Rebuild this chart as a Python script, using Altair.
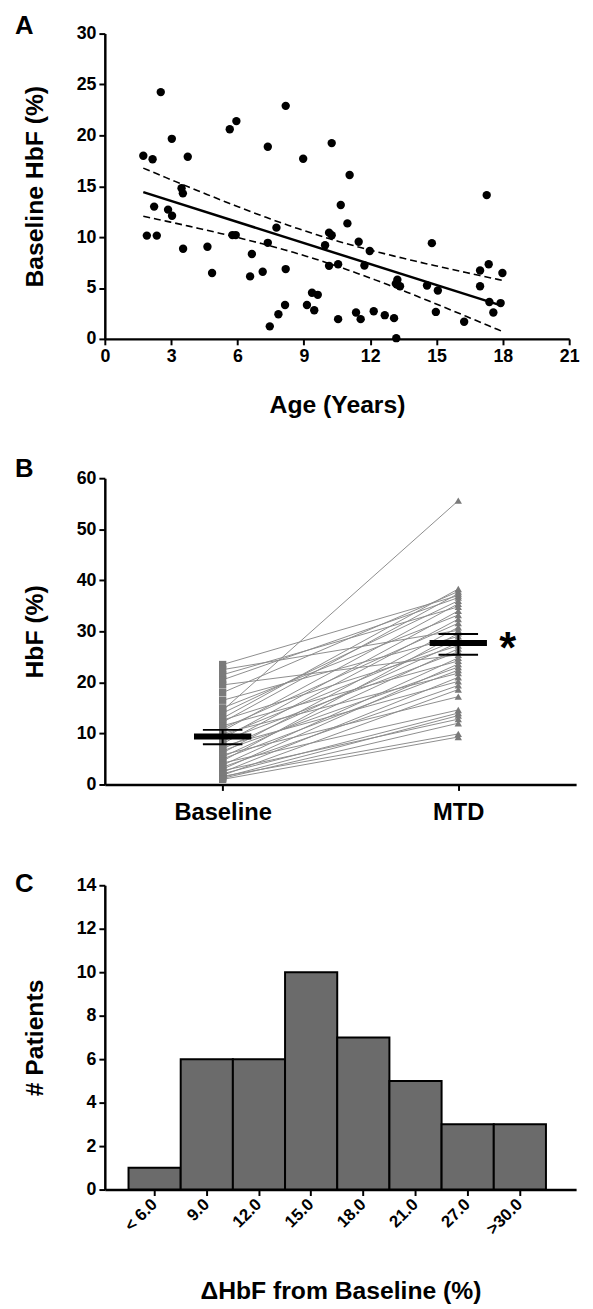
import altair as alt
import numpy as np
import pandas as pd

FONT = "Liberation Sans"

# ---------------- Panel A: baseline HbF vs age ----------------
age_years = [1.74, 2.16, 2.53, 2.23, 1.90, 2.35, 3.03, 2.86, 3.04, 3.75,
             3.47, 3.53, 3.54, 4.64, 4.85, 5.65, 5.95, 5.77, 5.92, 6.65,
             6.57, 7.14, 7.37, 7.37, 7.76, 8.18, 8.18, 8.15, 7.85, 7.46,
             10.26, 8.97, 11.07, 10.67, 10.97, 10.14, 10.26, 9.96, 11.48, 11.98,
             10.14, 10.55, 11.74, 9.37, 9.63, 9.14, 9.47, 10.55, 11.36, 11.57,
             12.16, 12.66, 13.08, 13.18, 13.23, 13.35, 13.16, 14.57, 15.06, 14.79,
             14.97, 16.25, 17.27, 16.97, 17.36, 16.97, 17.39, 17.57, 17.90, 17.98]
baseline_hbf = [18.0, 17.65, 24.25, 13.0, 10.15, 10.15, 19.66, 12.7, 12.1, 17.9,
                14.8, 14.3, 8.86, 9.05, 6.47, 20.6, 21.4, 10.2, 10.2, 8.34,
                6.14, 6.6, 18.88, 9.44, 10.93, 22.9, 6.86, 3.33, 2.42, 1.23,
                19.24, 17.7, 16.1, 13.16, 11.35, 10.44, 10.18, 9.21, 9.54, 8.63,
                7.18, 7.34, 7.21, 4.53, 4.33, 3.33, 2.81, 1.94, 2.59, 1.94,
                2.72, 2.33, 2.04, 0.07, 5.82, 5.17, 5.43, 5.24, 4.75, 9.41,
                2.65, 1.68, 14.13, 6.72, 7.34, 5.17, 3.62, 2.59, 3.52, 6.47]
age_ticks = [0, 3, 6, 9, 12, 15, 18, 21]
hbfA_ticks = [0, 5, 10, 15, 20, 25, 30]

# ---------------- Panel B: baseline -> MTD pairs ----------------
groups = ["Baseline", "MTD"]
pair_baseline = [23.5, 22.5, 21.5, 20.5, 19.5, 18.0, 16.5, 15.0, 14.0, 13.0,
                 12.6, 12.2, 11.5, 11.0, 10.5, 10.0, 9.5, 9.0, 8.5, 8.0,
                 7.5, 7.0, 6.6, 6.2, 5.8, 5.4, 5.0, 4.6, 4.2, 3.8,
                 3.4, 3.0, 2.7, 2.4, 2.1, 1.8, 1.6, 1.4, 1.2, 1.0, 14.5]
pair_mtd = [37.0, 30.2, 34.8, 36.6, 25.4, 37.8, 29.0, 33.2, 36.0, 38.3,
            27.2, 37.4, 24.2, 31.6, 35.4, 21.8, 28.4, 34.0, 26.0, 32.4,
            20.2, 27.8, 23.0, 30.8, 17.2, 26.6, 22.4, 29.6, 14.6, 24.8,
            19.4, 23.6, 12.8, 21.0, 14.0, 18.6, 9.9, 13.5, 12.0, 9.3, 55.6]
group_mean = [9.4, 27.7]
group_sem_lo = [7.9, 25.4]
group_sem_hi = [10.7, 29.5]
hbfB_ticks = [0, 10, 20, 30, 40, 50, 60]

# ---------------- Panel C: histogram ----------------
delta_bins = ["< 6.0", "9.0", "12.0", "15.0", "18.0", "21.0", "27.0", ">30.0"]
patients = [1, 6, 6, 10, 7, 5, 3, 3]
count_ticks = [0, 2, 4, 6, 8, 10, 12, 14]

TITLE_FS = 25
LETTER_FS = 26
one = pd.DataFrame({"k": [0]})


def letter(t, yoff):
    return alt.Chart(pd.DataFrame({"t": [t]})).mark_text(
        font=FONT, fontSize=LETTER_FS, fontWeight="bold", align="left",
        baseline="alphabetic", color="black").encode(
        text="t:N", x=alt.value(-91), y=alt.value(yoff))


def spacer(y_top, y_bot):
    # invisible white layout guides that fix each panel's vertical extent
    top = alt.Chart(one).mark_rule(color="white", strokeWidth=1).encode(
        x=alt.value(0), y=alt.value(y_top), y2=alt.value(y_top + 1))
    bot = alt.Chart(one).mark_rule(color="white", strokeWidth=1).encode(
        x=alt.value(0), y=alt.value(y_bot - 1), y2=alt.value(y_bot))
    return [top, bot]


# ================= build panel A =================
WA, HA = 470, 309
dfA = pd.DataFrame({"age": age_years, "hbf": baseline_hbf})

xv = np.array(age_years)
yv = np.array(baseline_hbf)
slope, intercept = np.polyfit(xv, yv, 1)
n = len(xv)
resid = yv - (intercept + slope * xv)
s = np.sqrt((resid ** 2).sum() / (n - 2))
sxx = ((xv - xv.mean()) ** 2).sum()
grid = np.linspace(xv.min(), xv.max(), 80)
fit = intercept + slope * grid
half = 1.995 * s * np.sqrt(1.0 / n + (grid - xv.mean()) ** 2 / sxx)
dfBand = pd.DataFrame({
    "age": np.concatenate([grid, grid]),
    "hbf": np.concatenate([fit + half, fit - half]),
    "side": ["upper"] * len(grid) + ["lower"] * len(grid),
})

xA = alt.X("age:Q", scale=alt.Scale(domain=[0, 21], nice=False, zero=False),
           axis=alt.Axis(values=age_ticks, title="Age (Years)", titleY=75,
                         titleBaseline="alphabetic"))
yA = alt.Y("hbf:Q", scale=alt.Scale(domain=[0, 30], nice=False),
           axis=alt.Axis(values=hbfA_ticks, title="Baseline HbF (%)",
                         titleX=-58, titleY=HA / 2))

ptsA = alt.Chart(dfA).mark_circle(size=72, color="black", opacity=1).encode(x=xA, y=yA)
regA = alt.Chart(dfA).transform_regression("age", "hbf").mark_line(
    color="black", strokeWidth=2.5).encode(x=xA, y=yA)
bandA = alt.Chart(dfBand).mark_line(color="black", strokeWidth=1.6,
                                    strokeDash=[7, 4]).encode(x=xA, y=yA, detail="side:N")
panelA = alt.layer(bandA, regA, ptsA, letter("A", 0), *spacer(-23, HA + 99)).properties(
    width=WA, height=HA)

# ================= build panel B =================
WB, HB = 477, 310
pos = [0.5, 1.5]
rows = []
for i, (b, m) in enumerate(zip(pair_baseline, pair_mtd)):
    rows.append({"id": i, "pos": pos[0], "val": b, "grp": groups[0]})
    rows.append({"id": i, "pos": pos[1], "val": m, "grp": groups[1]})
dfB = pd.DataFrame(rows)
dfS = pd.DataFrame({"pos": pos, "mean": group_mean, "lo": group_sem_lo,
                    "hi": group_sem_hi, "grp": groups})

label_expr = f"datum.value < 1 ? '{groups[0]}' : '{groups[1]}'"
xB = alt.X("pos:Q", scale=alt.Scale(domain=[0, 2], nice=False, zero=False),
           axis=alt.Axis(values=pos, labelExpr=label_expr, title=None,
                         labelFontSize=24, labelPadding=29, labelBaseline="alphabetic"))
yB = alt.Y("val:Q", scale=alt.Scale(domain=[0, 60], nice=False),
           axis=alt.Axis(values=hbfB_ticks, title="HbF (%)", titleX=-58, titleY=HB / 2))

linesB = alt.Chart(dfB).mark_line(color="#8c8c8c", strokeWidth=1).encode(
    x=xB, y=yB, detail="id:N")
sqB = alt.Chart(dfB).transform_filter(f"datum.grp == '{groups[0]}'").mark_point(
    shape="square", filled=True, size=55, color="#7a7a7a", opacity=1).encode(x=xB, y=yB)
triB = alt.Chart(dfB).transform_filter(f"datum.grp == '{groups[1]}'").mark_point(
    shape="triangle-up", filled=True, size=55, color="#7a7a7a", opacity=1).encode(x=xB, y=yB)
meanB = alt.Chart(dfS).mark_tick(orient="horizontal", size=58, thickness=6,
                                 color="black", opacity=1).encode(
    x=alt.X("pos:Q"), y=alt.Y("mean:Q"))
loB = alt.Chart(dfS).mark_tick(orient="horizontal", size=40, thickness=2,
                               color="black", opacity=1).encode(
    x=alt.X("pos:Q"), y=alt.Y("lo:Q"))
hiB = alt.Chart(dfS).mark_tick(orient="horizontal", size=40, thickness=2,
                               color="black", opacity=1).encode(
    x=alt.X("pos:Q"), y=alt.Y("hi:Q"))
vB = alt.Chart(dfS).mark_rule(color="black", strokeWidth=2).encode(
    x=alt.X("pos:Q"), y=alt.Y("lo:Q"), y2="hi:Q")
starB = alt.Chart(dfS).transform_filter(f"datum.grp == '{groups[1]}'").mark_text(
    text="*", font=FONT, fontSize=44, fontWeight="bold", align="center",
    baseline="alphabetic", dx=50, dy=20, color="black").encode(
    x=alt.X("pos:Q"), y=alt.Y("mean:Q"))
panelB = alt.layer(linesB, sqB, triB, vB, loB, hiB, meanB, starB, letter("B", -1),
                   *spacer(-30, HB + 56)).properties(width=WB, height=HB)

# ================= build panel C =================
WC, HC = 477, 308
dfC = pd.DataFrame({"bin": delta_bins, "n": patients})
xC = alt.X("bin:N", sort=delta_bins,
           scale=alt.Scale(paddingInner=0, paddingOuter=0.516, align=0.44),
           axis=alt.Axis(title="\u0394HbF from Baseline (%)", labelAngle=315,
                         labelAlign="right", labelBaseline="middle", labelPadding=6,
                         labelFontSize=17, titleY=110, titleBaseline="alphabetic"))
yC = alt.Y("n:Q", scale=alt.Scale(domain=[0, 14], nice=False),
           axis=alt.Axis(values=count_ticks, title="# Patients", titleX=-58, titleY=HC / 2))
barsC = alt.Chart(dfC).mark_bar(color="#6b6b6b", stroke="black", strokeWidth=2,
                                opacity=1).encode(x=xC, y=yC)
panelC = alt.layer(barsC, letter("C", 7), *spacer(-34, HC + 20)).properties(
    width=WC, height=HC)

chart = alt.vconcat(panelA, panelB, panelC, spacing=10).properties(
    padding={"left": 7, "top": -6, "right": 5, "bottom": 0},
    background="white",
).configure_view(stroke=None).configure_axis(
    domainColor="black", domainWidth=2.5, tickColor="black", tickWidth=2, tickSize=6,
    labelFont=FONT, labelFontSize=18, labelFontWeight="bold", labelColor="black",
    labelPadding=3, labelFlush=False, labelOverlap=False,
    titleFont=FONT, titleFontSize=TITLE_FS, titleFontWeight="bold", titleColor="black",
    grid=False,
)

chart.save("out.html", embed_options={"renderer": "svg", "actions": False})
